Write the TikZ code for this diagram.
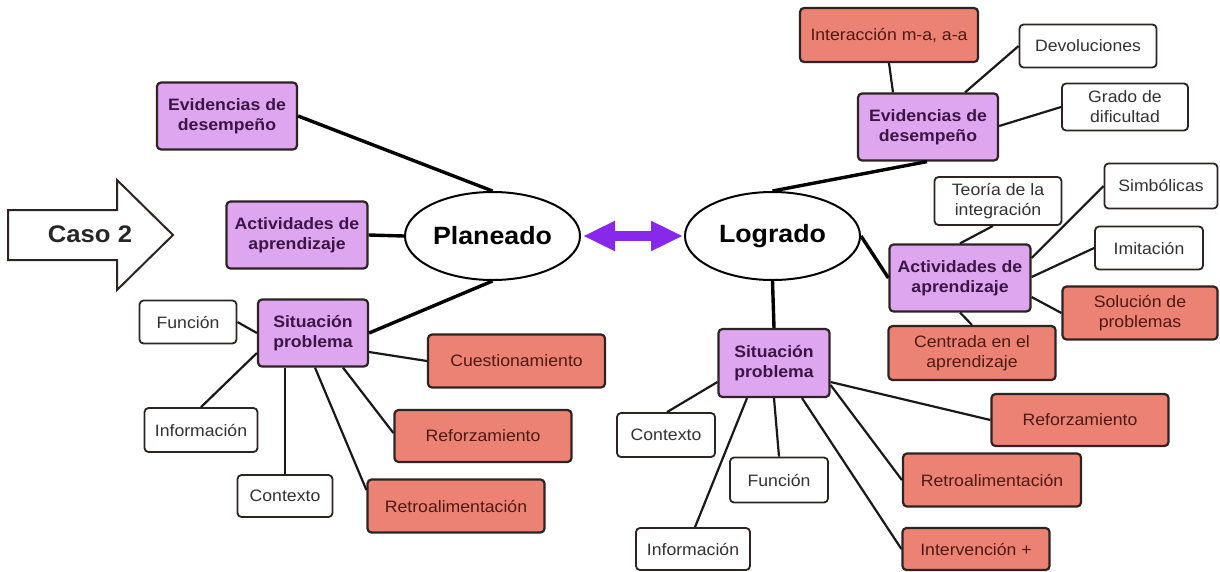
\documentclass[tikz,border=0pt]{standalone}
\usepackage{fontspec}
\setmainfont{Liberation Sans}[FakeStretch=1.07]
\usetikzlibrary{shapes.geometric,arrows.meta}
\definecolor{purpfill}{RGB}{222,166,238}
\definecolor{salfill}{RGB}{235,130,115}
\definecolor{bordc}{RGB}{45,35,35}
\definecolor{purptext}{RGB}{60,20,70}
\definecolor{saltext}{RGB}{80,25,20}
\definecolor{whtext}{RGB}{50,50,50}
\definecolor{arrowviolet}{RGB}{135,40,235}
\tikzset{
  box/.style={rectangle, rounded corners=4pt, align=center, inner sep=0pt,
    font=\fontsize{16.5}{20}\selectfont},
  purp/.style={box, draw=bordc, line width=2.2pt, fill=purpfill, text=purptext,
    font=\bfseries\fontsize{16.5}{20}\selectfont},
  sal/.style={box, draw=bordc, line width=2.2pt, fill=salfill, text=saltext},
  wht/.style={box, draw=bordc, line width=1.8pt, fill=white, text=whtext},
  oval/.style={ellipse, draw=black, line width=2pt, fill=white, inner sep=0pt,
    minimum width=175pt, minimum height=88pt, font=\bfseries\fontsize{25}{28}\selectfont},
  mainline/.style={line width=3.4pt, black},
  subline/.style={line width=2.2pt, black!90}
}
\begin{document}
\begin{tikzpicture}[x=1pt,y=-1pt]
\fill[white] (0,0) rectangle (1220,571);
\useasboundingbox (0,0) rectangle (1220,571);

% Caso 2 arrow
\draw[line width=2pt, fill=white, draw=bordc] (8,210) -- (117,210) -- (117,180) -- (173,235) -- (117,290) -- (117,260) -- (8,260) -- cycle;
\node[font=\bfseries\fontsize{24}{28}\selectfont, text=black!85] (caso) at (90,234) {Caso 2};

% ---------- Left side ----------
\node[oval] (plan) at (492.5,236) {Planeado};
\node[purp, minimum width=140pt, minimum height=67pt] (evL) at (227,116) {Evidencias de\\desempeño};
\node[purp, minimum width=141pt, minimum height=67pt] (acL) at (297,235) {Actividades de\\aprendizaje};
\node[purp, minimum width=110pt, minimum height=67pt] (sitL) at (313,333) {Situación\\problema};
\node[wht, minimum width=97pt, minimum height=43pt] (funL) at (188,322) {Función};
\node[wht, minimum width=113pt, minimum height=44pt] (infL) at (201,430) {Información};
\node[wht, minimum width=95pt, minimum height=42pt] (conL) at (285,496) {Contexto};
\node[sal, minimum width=177pt, minimum height=53pt] (cueL) at (516.5,361) {Cuestionamiento};
\node[sal, minimum width=177pt, minimum height=52pt] (refL) at (483,436) {Reforzamiento};
\node[sal, minimum width=177pt, minimum height=53pt] (retL) at (456,506) {Retroalimentación};

% ---------- Right side ----------
\node[oval] (logr) at (772.5,236) {Logrado};
\node[sal, minimum width=178pt, minimum height=54pt] (intR) at (889,35) {Interacción m-a, a-a};
\node[wht, minimum width=137pt, minimum height=43pt] (devR) at (1088,46) {Devoluciones};
\node[wht, minimum width=126pt, minimum height=47pt] (graR) at (1125,107) {Grado de\\dificultad};
\node[purp, minimum width=140pt, minimum height=67pt] (evR) at (928,127) {Evidencias de\\desempeño};
\node[wht, minimum width=127pt, minimum height=48pt] (teoR) at (998,201) {Teoría de la\\integración};
\node[wht, minimum width=113pt, minimum height=45pt] (simR) at (1161,186) {Simbólicas};
\node[wht, minimum width=108pt, minimum height=43pt] (imiR) at (1149,248) {Imitación};
\node[purp, minimum width=141pt, minimum height=67pt] (acR) at (960,278) {Actividades de\\aprendizaje};
\node[sal, minimum width=155pt, minimum height=53pt] (solR) at (1140,313) {Solución de\\problemas};
\node[sal, minimum width=167pt, minimum height=54pt] (cenR) at (972,353) {Centrada en el\\aprendizaje};
\node[purp, minimum width=111pt, minimum height=68pt] (sitR) at (774,363) {Situación\\problema};
\node[wht, minimum width=98pt, minimum height=44pt] (conR) at (666,435) {Contexto};
\node[wht, minimum width=98pt, minimum height=45pt] (funR) at (779,480) {Función};
\node[wht, minimum width=114pt, minimum height=42pt] (infR) at (693,549) {Información};
\node[sal, minimum width=177pt, minimum height=52pt] (refR) at (1080,420) {Reforzamiento};
\node[sal, minimum width=178pt, minimum height=53pt] (retR) at (992,480) {Retroalimentación};
\node[sal, minimum width=147pt, minimum height=42pt] (intvR) at (976,549) {Intervención +};

% ---------- Connectors (left) ----------
\draw[mainline] (evL.east) -- (plan.north);
\draw[mainline] (acL.east) -- (plan.west);
\draw[mainline] (plan.south) -- (sitL.east);
\draw[subline] (funL.east) -- (sitL.west);
\draw[subline] ([yshift=-20pt]sitL.west) -- (infL.north);
\draw[subline] ([xshift=-28pt]sitL.south) -- (conL.north);
\draw[subline] ([xshift=2pt]sitL.south) -- ([yshift=16pt]retL.west);
\draw[subline] ([xshift=30pt]sitL.south) -- ([yshift=3pt]refL.west);
\draw[subline] ([yshift=-19pt]sitL.east) -- (cueL.west);

% ---------- Connectors (right) ----------
\draw[subline] (intR.south) -- ([xshift=-35pt]evR.north);
\draw[subline] ([xshift=37pt]evR.north) -- (devR.west);
\draw[subline] ([yshift=1pt]evR.east) -- (graR.west);
\draw[mainline] ([xshift=-1pt]evR.south) -- (logr.north);
\draw[mainline] (logr.east) -- (acR.west);
\draw[subline] (acR.north) -- ([xshift=-5pt]teoR.south);
\draw[subline] ([yshift=20pt]acR.east) -- (simR.west);
\draw[subline] ([yshift=1pt]acR.east) -- (imiR.west);
\draw[subline] ([yshift=-19pt]acR.east) -- (solR.west);
\draw[subline] (acR.south) -- (cenR.north);
\draw[mainline] (logr.south) -- (sitR.north);
\draw[subline] ([yshift=-19pt]sitR.west) -- ([xshift=1pt]conR.north);
\draw[subline] ([xshift=-27pt]sitR.south) -- ([xshift=2pt]infR.north);
\draw[subline] (sitR.south) -- (funR.north);
\draw[subline] ([xshift=28pt]sitR.south) -- (intvR.west);
\draw[subline] ([yshift=-22pt]sitR.east) -- (retR.west);
\draw[subline] ([yshift=-19pt]sitR.east) -- (refR.west);

% double arrow
\draw[line width=10pt, arrowviolet, {Triangle[length=32pt,width=28pt]}-{Triangle[length=32pt,width=28pt]}] ([xshift=2pt]plan.east) -- ([xshift=-1pt]logr.west);
\end{tikzpicture}
\end{document}
